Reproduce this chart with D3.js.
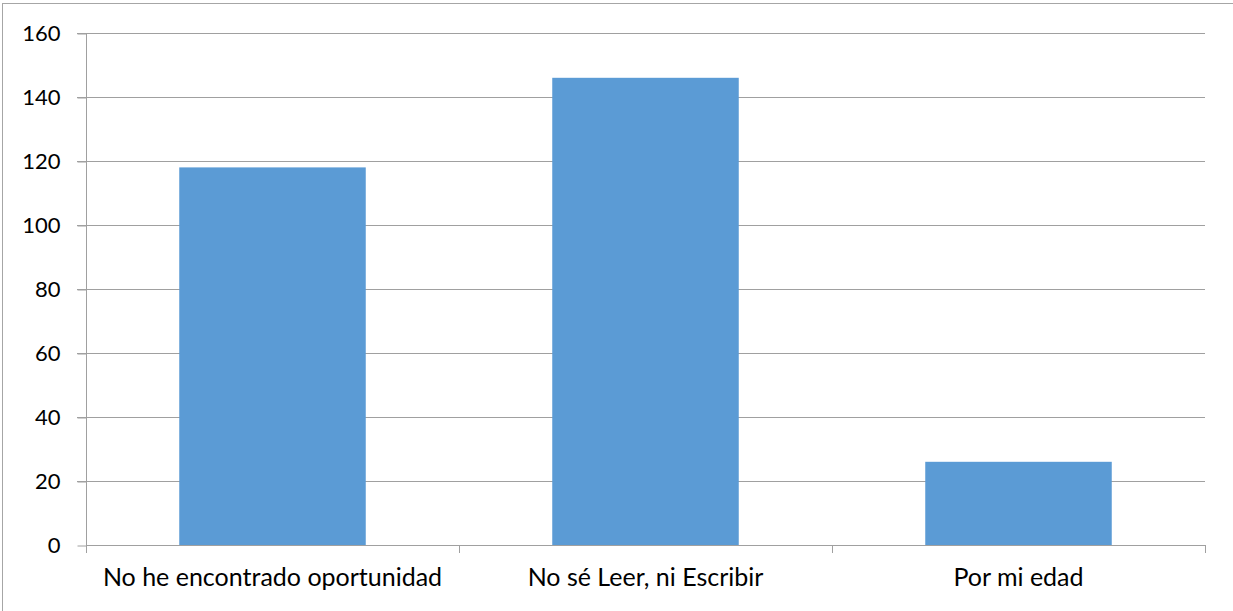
<!DOCTYPE html>
<html>
<head>
<meta charset="utf-8">
<script src="https://cdn.jsdelivr.net/npm/d3@7"></script>
<style>
  html, body { margin: 0; padding: 0; background: #fff; }
  svg { display: block; }
</style>
</head>
<body>
<script>
const categories = ["No he encontrado oportunidad", "No sé Leer, ni Escribir", "Por mi edad"];
const values = [118, 146, 26];
const yTicks = [0, 20, 40, 60, 80, 100, 120, 140, 160];

const W = 1233, H = 611;
const mLeft = 86, mRight = 1205, mTop = 33, mBottom = 545;
const font = "Lato, 'Open Sans', sans-serif";

const svg = d3.select("body").append("svg").attr("width", W).attr("height", H);

// chart border
svg.append("rect").attr("x", 2.5).attr("y", 3.5).attr("width", W + 10).attr("height", H + 10)
  .attr("fill", "none").attr("stroke", "#A6A6A6").attr("stroke-width", 1);

const x = d3.scaleBand().domain(categories).range([mLeft, mRight]).padding(0);
const y = d3.scaleLinear().domain([0, 160]).range([mBottom, mTop]);

// gridlines
svg.append("g").selectAll("line").data(yTicks.filter(d => d > 0)).join("line")
  .attr("x1", mLeft - 9).attr("x2", mRight)
  .attr("y1", d => Math.round(y(d)) + 0.5).attr("y2", d => Math.round(y(d)) + 0.5)
  .attr("stroke", "#A0A0A0").attr("stroke-width", 1);

// bars
const bw = x.bandwidth() / 2;
svg.append("g").selectAll("rect").data(values).join("rect")
  .attr("x", (d, i) => x(categories[i]) + (x.bandwidth() - bw) / 2)
  .attr("y", d => y(d))
  .attr("width", bw)
  .attr("height", d => y(0) - y(d))
  .attr("fill", "#5B9BD5");

// y axis
const yAxis = d3.axisLeft(y).tickValues(yTicks).tickSize(9).tickPadding(17).tickFormat(d3.format("d"));
const gy = svg.append("g").attr("transform", `translate(${mLeft + 0.5},0.5)`).call(yAxis);
gy.select(".domain").attr("stroke", "#A0A0A0").attr("d", `M0,${mTop}V${mBottom}`);
gy.selectAll(".tick line").attr("stroke", "#A0A0A0");
gy.selectAll(".tick text").attr("font-family", font).attr("font-size", 22).attr("fill", "#000");

// x axis
const xAxis = d3.axisBottom(x).tickSize(0).tickPadding(23);
const gx = svg.append("g").attr("transform", `translate(0,${mBottom + 0.5})`).call(xAxis);
gx.select(".domain").attr("stroke", "#A0A0A0").attr("d", `M${mLeft},0H${mRight}`);
gx.selectAll(".tick text").attr("font-family", font).attr("font-size", 25).attr("fill", "#000");

// x category boundary ticks
const bounds = categories.map(c => x(c)).concat([x(categories[categories.length - 1]) + x.bandwidth()]);
svg.append("g").selectAll("line").data(bounds).join("line")
  .attr("x1", d => Math.round(d) + 0.5).attr("x2", d => Math.round(d) + 0.5)
  .attr("y1", mBottom).attr("y2", mBottom + 8)
  .attr("stroke", "#A0A0A0");
</script>
</body>
</html>
